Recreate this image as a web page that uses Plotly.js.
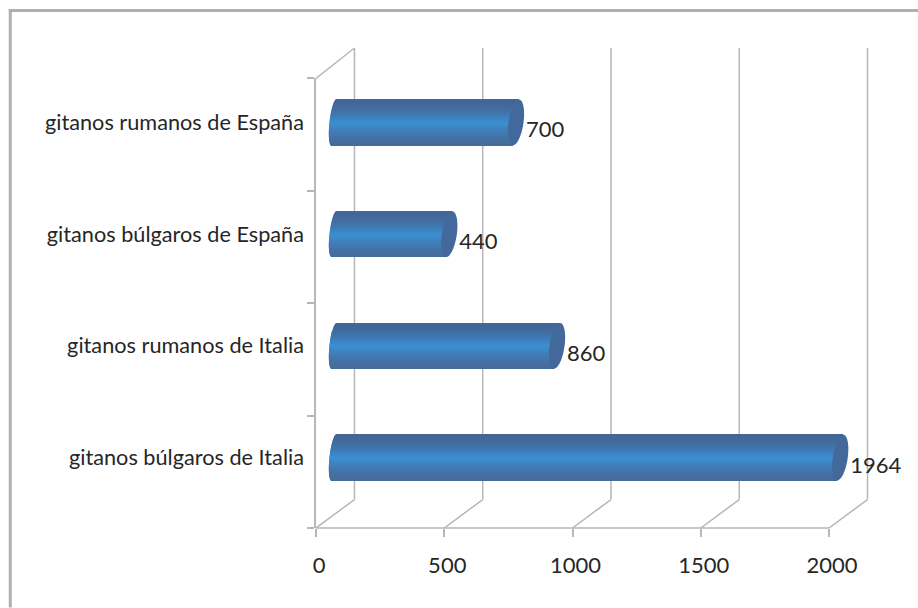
<!DOCTYPE html>
<html>
<head>
<meta charset="utf-8">
<script src="https://cdn.plot.ly/plotly-3.0.1.min.js"></script>
<style>html,body{margin:0;padding:0;background:#fff}#chart{width:918px;height:608px}</style>
</head>
<body>
<div id="chart"></div>
<script>
// Data (bottom to top)
const categories = ['gitanos búlgaros de Italia', 'gitanos rumanos de Italia', 'gitanos búlgaros de España', 'gitanos rumanos de España'];
const values = [1964, 860, 440, 700];
const xTicks = [0, 500, 1000, 1500, 2000];

// Styling and geometry
const FONT = 'Lato, "Open Sans", sans-serif', TEXT = '#262626', GRID = '#b6b6bb';
const L = 315.5, T = 46, B = 528.5, PW = 553.5, PH = B - T;
const ux = (829 - 315.5) / 2000;      // px per value unit
const uy = (458 - 122.5) / 3;         // px per category
const yMin = -(528.5 - 458) / uy, yMax = (458 - T) / uy;
const xMax = PW / ux;
const depthX = 38.5 / ux, depthY = 28.5 / uy;
const barH = 45.6 / uy, N = 46;

function mix(a, b, f) { return 'rgb(' + a.map((v, i) => Math.round(v + (b[i] - v) * f)).join(',') + ')'; }
const EDGE_T = [66, 102, 150], EDGE_B = [70, 108, 156], MID = [58, 144, 212];

const traces = [];
for (let k = 0; k < N; k++) {
  const t = ((k + 0.5) / N) * 2 - 1;          // -1 bottom, +1 top
  const s = Math.sqrt(1 - t * t);
  const leftPx = 18 + 2.5 * t - 4.5 * s;
  const rightPx = 20.5 + 3 * t;
  const base = leftPx / ux;
  const bandColor = mix(t > 0 ? EDGE_T : EDGE_B, MID, Math.pow(1 - Math.abs(t), 1.7));
  traces.push({
    type: 'bar', orientation: 'h',
    y: values.map((_, i) => i),
    x: values.map(v => v + rightPx / ux - base),
    base: values.map(() => base),
    offset: (k / N - 0.5) * barH,
    width: barH / N,
    marker: { color: bandColor, line: { width: 0 } },
    hoverinfo: 'skip', showlegend: false
  });
}
// Data labels
traces.push({
  type: 'scatter', mode: 'text', showlegend: false, hoverinfo: 'skip',
  x: values.map(v => v + 30.5 / ux),
  y: values.map((_, i) => i - 9.5 / uy),
  text: values.map(String),
  textposition: 'middle right',
  textfont: { family: FONT, size: 22, color: TEXT },
  cliponaxis: false
});
// Empty trace so the front-plane category axis (y2) is drawn
traces.push({ type: 'scatter', mode: 'none', x: [0], y: [0], yaxis: 'y2', showlegend: false, hoverinfo: 'skip' });

const lineStyle = { color: GRID, width: 1.5 };
const shapes = [];
// back-wall gridlines and floor diagonals
xTicks.forEach(v => {
  shapes.push({ type: 'line', layer: 'below', xref: 'x', yref: 'y', x0: v + depthX, x1: v + depthX, y0: yMin + depthY, y1: (458 - 48) / uy, line: lineStyle });
  shapes.push({ type: 'line', layer: 'below', xref: 'x', yref: 'y', x0: v, x1: v + depthX, y0: yMin, y1: yMin + depthY, line: lineStyle });
});
// left wall top diagonal
shapes.push({ type: 'line', layer: 'below', xref: 'x', yref: 'y', x0: 0, x1: depthX, y0: (458 - 78.5) / uy, y1: (458 - 48) / uy, line: lineStyle });
// floor front edge
shapes.push({ type: 'line', layer: 'below', xref: 'x', yref: 'paper', x0: 0, x1: xTicks[xTicks.length - 1], y0: 0, y1: 0, line: lineStyle });
// bar end caps
values.forEach((v, i) => {
  const cx = v + 20.5 / ux;
  let d = '';
  for (let a = 0; a < 48; a++) {
    const th = a / 48 * 2 * Math.PI;
    const x = cx + (7.5 * Math.cos(th) + 3 * Math.sin(th)) / ux;
    const y = i + (barH / 2) * Math.sin(th);
    d += (a ? 'L' : 'M') + x.toFixed(2) + ',' + y.toFixed(4);
  }
  shapes.push({ type: 'path', xref: 'x', yref: 'y', path: d + 'Z', fillcolor: '#43689b', line: { width: 0 } });
});
// outer frame (top and left edges only)
const FC = '#aeaeb3';
const px = x => (x - L) / PW, py = y => (B - y) / PH;
shapes.push({ type: 'line', xref: 'paper', yref: 'paper', x0: px(8), x1: px(918), y0: py(10.5), y1: py(10.5), line: { color: FC, width: 3 } });
shapes.push({ type: 'line', xref: 'paper', yref: 'paper', x0: px(9.5), x1: px(9.5), y0: py(9), y1: py(608), line: { color: FC, width: 3 } });

const layout = {
  width: 918, height: 608, autosize: false,
  paper_bgcolor: '#fff', plot_bgcolor: 'rgba(0,0,0,0)',
  showlegend: false, barmode: 'overlay',
  margin: { l: L, r: 918 - L - PW, t: T, b: 608 - B, pad: 0 },
  font: { family: FONT, size: 20, color: TEXT },
  xaxis: {
    range: [0, xMax], tickmode: 'array', tickvals: xTicks, ticktext: xTicks.map(String),
    showgrid: false, zeroline: false, showline: false,
    ticks: 'outside', ticklen: 8, tickwidth: 1.5, tickcolor: GRID,
    ticklabelstandoff: 10, ticklabelshift: 3,
    tickfont: { family: FONT, size: 22, color: TEXT }
  },
  yaxis: {
    range: [yMin, yMax], tickmode: 'array', tickvals: categories.map((_, i) => i), ticktext: categories,
    showgrid: false, zeroline: false, showline: false, ticks: '',
    ticklabelstandoff: 11, ticklabelshift: 1.5,
    tickfont: { family: FONT, size: 21.7, color: TEXT }
  },
  yaxis2: {
    domain: [0, (B - 78.5) / PH], range: [0, 4], anchor: 'x', side: 'left',
    tickmode: 'array', tickvals: [0, 1, 2, 3, 4], showticklabels: false,
    showgrid: false, zeroline: false, showline: true, linecolor: GRID, linewidth: 1.5,
    ticks: 'outside', ticklen: 7, tickwidth: 1.5, tickcolor: GRID
  },
  shapes: shapes
};
Plotly.newPlot('chart', traces, layout, { displayModeBar: false });
</script>
</body>
</html>
